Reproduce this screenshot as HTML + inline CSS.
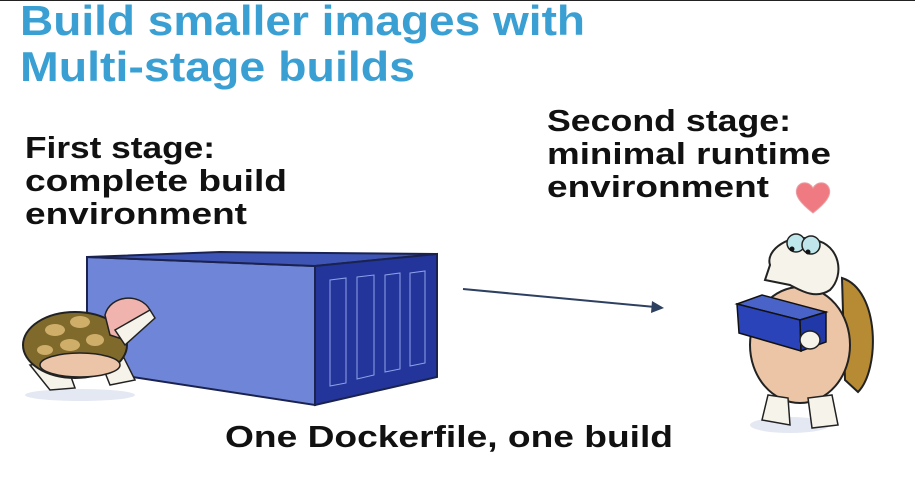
<!DOCTYPE html>
<html><head><style>
html,body{margin:0;padding:0;background:#fff;}
svg{display:block}
text{font-family:"Liberation Sans",sans-serif;font-weight:bold;}
</style></head><body>
<svg width="915" height="479" viewBox="0 0 915 479" xmlns="http://www.w3.org/2000/svg">
<rect width="915" height="479" fill="#fff"/>
<line x1="0" y1="0.5" x2="915" y2="0.5" stroke="#222" stroke-width="1"/>
<g fill="#3a9fd2">
<text x="20" y="35" font-size="42" textLength="565" lengthAdjust="spacingAndGlyphs">Build smaller images with</text>
<text x="20" y="81" font-size="42" textLength="395" lengthAdjust="spacingAndGlyphs">Multi-stage builds</text>
</g>
<g fill="#111">
<text x="25" y="158" font-size="31" textLength="190" lengthAdjust="spacingAndGlyphs">First stage:</text>
<text x="25" y="191" font-size="31" textLength="262" lengthAdjust="spacingAndGlyphs">complete build</text>
<text x="25" y="224" font-size="31" textLength="222" lengthAdjust="spacingAndGlyphs">environment</text>
<text x="547" y="131" font-size="31" textLength="244" lengthAdjust="spacingAndGlyphs">Second stage:</text>
<text x="547" y="164" font-size="31" textLength="284" lengthAdjust="spacingAndGlyphs">minimal runtime</text>
<text x="547" y="197" font-size="31" textLength="222" lengthAdjust="spacingAndGlyphs">environment</text>
<text x="225" y="447" font-size="31" textLength="448" lengthAdjust="spacingAndGlyphs">One Dockerfile, one build</text>
</g>
<path d="M813 213 C800 203 794 195 797 188 C800 181 809 181 813 188 C817 181 826 181 829 188 C832 195 826 203 813 213Z" fill="#f07a82" stroke="#e9a0a5" stroke-width="1"/>
<polygon points="87,257 315,266 315,405 87,370" fill="#6f86d8" stroke="#1a2350" stroke-width="2"/>
<polygon points="87,257 315,266 437,254 220,252" fill="#3f55b5" stroke="#1a2350" stroke-width="2"/>
<polygon points="315,266 437,254 437,377 315,405" fill="#23359a" stroke="#1a2350" stroke-width="2"/>
<g fill="none" stroke="#8fa2e8" stroke-width="1">
<polygon points="330,280 346,278 346,383 330,386"/>
<polygon points="357,277 374,275 374,375 357,379"/>
<polygon points="385,275 400,273 400,369 385,372"/>
<polygon points="410,273 425,271 425,363 410,366"/>
</g>
<ellipse cx="80" cy="395" rx="55" ry="6" fill="#e4e8f2"/>
<path d="M30 365 L50 390 L75 388 L65 360Z" fill="#f6f3ea" stroke="#222" stroke-width="1.5"/>
<path d="M100 360 L110 385 L135 380 L120 350Z" fill="#f6f3ea" stroke="#222" stroke-width="1.5"/>
<ellipse cx="75" cy="345" rx="52" ry="33" fill="#7f6a2c" stroke="#222" stroke-width="2"/>
<ellipse cx="80" cy="365" rx="40" ry="12" fill="#ecc4a8" stroke="#222" stroke-width="1.5"/>
<g fill="#cfae6a"><ellipse cx="55" cy="330" rx="10" ry="6"/><ellipse cx="80" cy="322" rx="10" ry="6"/><ellipse cx="70" cy="345" rx="10" ry="6"/><ellipse cx="95" cy="340" rx="9" ry="6"/><ellipse cx="45" cy="350" rx="8" ry="5"/></g>
<path d="M105 315 C110 295 140 292 150 310 L125 340 L110 335Z" fill="#f1b3ad" stroke="#222" stroke-width="1.5"/>
<path d="M115 330 L150 310 L155 318 L125 345Z" fill="#f6f3ea" stroke="#222" stroke-width="1.5"/>
<line x1="463" y1="289" x2="655" y2="307" stroke="#2d4060" stroke-width="2"/>
<polygon points="664,308 652,301 651,313" fill="#2d4060"/>
<ellipse cx="790" cy="425" rx="40" ry="8" fill="#e4e8f2"/>
<path d="M842 278 C880 290 880 370 858 392 L845 380Z" fill="#b78a34" stroke="#222" stroke-width="2"/>
<ellipse cx="800" cy="345" rx="50" ry="58" fill="#ecc5a6" stroke="#222" stroke-width="2"/>
<path d="M768 395 L762 420 L790 425 L788 398Z" fill="#f6f3ea" stroke="#222" stroke-width="1.5"/>
<path d="M808 398 L812 428 L838 425 L832 395Z" fill="#f6f3ea" stroke="#222" stroke-width="1.5"/>
<path d="M770 265 C765 250 790 232 815 240 C840 245 845 275 830 290 C815 300 800 290 790 285 L765 280Z" fill="#f6f3ea" stroke="#222" stroke-width="2"/>
<circle cx="796" cy="243" r="9" fill="#bfe6ea" stroke="#222" stroke-width="1.5"/>
<circle cx="811" cy="245" r="9" fill="#bfe6ea" stroke="#222" stroke-width="1.5"/>
<circle cx="792" cy="249" r="2.5" fill="#111"/><circle cx="808" cy="252" r="2.5" fill="#111"/>
<polygon points="737,304 762,295 826,312 800,320" fill="#4a63c8" stroke="#111" stroke-width="1.5"/>
<polygon points="737,304 800,320 801,351 739,333" fill="#2a43b8" stroke="#111" stroke-width="1.5"/>
<polygon points="800,320 826,312 826,342 801,351" fill="#2038a8" stroke="#111" stroke-width="1.5"/>
<ellipse cx="810" cy="340" rx="10" ry="9" fill="#f6f3ea" stroke="#222" stroke-width="1.5"/>
</svg>
</body></html>
